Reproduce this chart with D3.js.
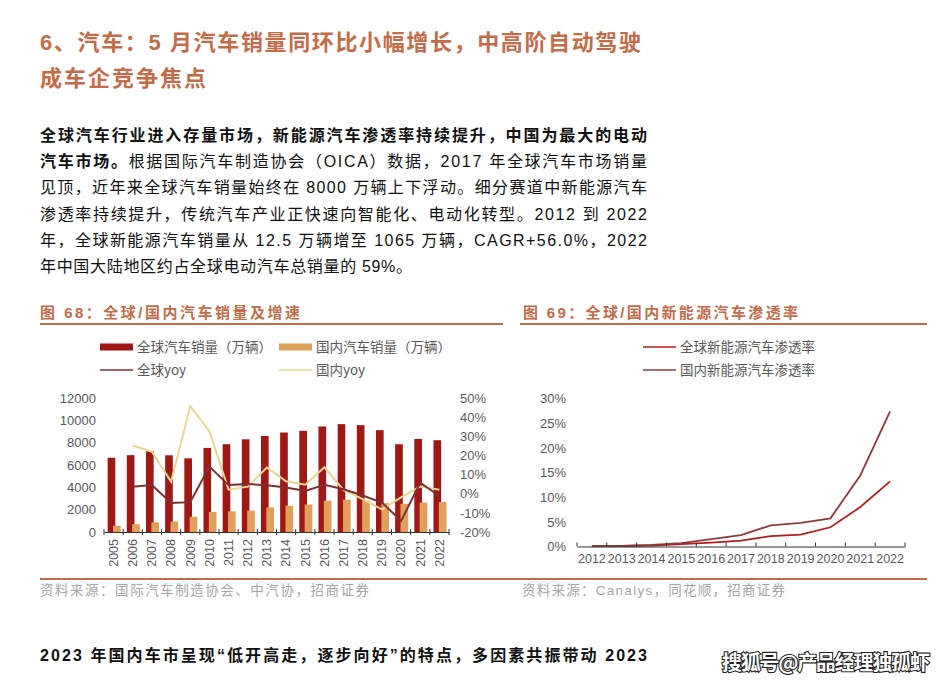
<!DOCTYPE html>
<html><head><meta charset="utf-8">
<script src="https://cdn.jsdelivr.net/npm/d3@7"></script>
<style>
body{margin:0;background:#fff;}
svg{display:block;}
</style></head>
<body>
<svg id="c" width="952" height="688"></svg>
<script>
// ---------- data ----------
const years1 = ["2005","2006","2007","2008","2009","2010","2011","2012","2013","2014","2015","2016","2017","2018","2019","2020","2021","2022"];
const globalSales = [6650,6880,7240,6870,6600,7530,7860,8300,8600,8910,9060,9450,9660,9570,9120,7860,8330,8220];
const chinaSales  = [560,700,870,930,1360,1800,1850,1930,2200,2350,2460,2800,2890,2810,2580,2530,2630,2690];
const globalYoy = [null,3.7,4.5,-4.9,-4.4,14.2,4.5,5.1,4.4,3.3,1.4,4.7,2.3,-0.9,-4.6,-14.2,5.8,-1.2];
const chinaYoy  = [null,25.2,21.9,6.3,45.7,32.7,2.1,3.7,13.7,6.5,4.7,13.8,1.9,-2.8,-8.2,-1.9,3.8,2.1];
const leftTicks = [0,2000,4000,6000,8000,10000,12000];
const rightTicks = [-20,-10,0,10,20,30,40,50];

const years2 = ["2012","2013","2014","2015","2016","2017","2018","2019","2020","2021","2022"];
const nevGlobal = [0.1,0.1,0.2,0.5,0.8,1.2,2.1,2.4,3.9,8.0,13.2];
const nevChina  = [0.1,0.1,0.3,0.7,1.5,2.3,4.3,4.8,5.7,14.4,27.4];
const nevTicks = [0,5,10,15,20,25,30];

const svg = d3.select("#c");
const CJK = "'Liberation Sans','Noto Sans CJK SC',sans-serif";
const NUM = "'Liberation Sans',Arial,sans-serif";
const accent = "#c46b47";
const grey = "#595959";

// ---------- header text ----------
svg.append("text").attr("x",40).attr("y",50).attr("font-family",CJK).attr("font-weight",700)
  .attr("font-size",22).attr("fill",accent).attr("textLength",601).attr("lengthAdjust","spacing")
  .text("6、汽车：5 月汽车销量同环比小幅增长，中高阶自动驾驶");
svg.append("text").attr("x",40).attr("y",86).attr("font-family",CJK).attr("font-weight",700)
  .attr("font-size",22).attr("fill",accent).attr("textLength",166).attr("lengthAdjust","spacing")
  .text("成车企竞争焦点");

const para = [
  {parts:[["全球汽车行业进入存量市场，新能源汽车渗透率持续提升，中国为最大的电动",700]], len:607},
  {parts:[["汽车市场。",700],["根据国际汽车制造协会（OICA）数据，2017 年全球汽车市场销量",400]], len:607},
  {parts:[["见顶，近年来全球汽车销量始终在 8000 万辆上下浮动。细分赛道中新能源汽车",400]], len:607},
  {parts:[["渗透率持续提升，传统汽车产业正快速向智能化、电动化转型。2012 到 2022",400]], len:607},
  {parts:[["年，全球新能源汽车销量从 12.5 万辆增至 1065 万辆，CAGR+56.0%，2022",400]], len:607},
  {parts:[["年中国大陆地区约占全球电动汽车总销量的 59%。",400]], len:372}
];
para.forEach((ln,i)=>{
  const t = svg.append("text").attr("x",40).attr("y",141+i*26.2).attr("font-family",CJK)
    .attr("font-size",16).attr("fill","#111").attr("textLength",ln.len).attr("lengthAdjust","spacing");
  ln.parts.forEach(p=>t.append("tspan").attr("font-weight",p[1]).text(p[0]));
});

// section headings
svg.append("text").attr("x",40).attr("y",318).attr("font-family",CJK).attr("font-weight",700)
  .attr("font-size",15).attr("fill",accent).attr("textLength",260).attr("lengthAdjust","spacing")
  .text("图 68：全球/国内汽车销量及增速");
svg.append("text").attr("x",523).attr("y",318).attr("font-family",CJK).attr("font-weight",700)
  .attr("font-size",15).attr("fill",accent).attr("textLength",275).attr("lengthAdjust","spacing")
  .text("图 69：全球/国内新能源汽车渗透率");
svg.append("line").attr("x1",40).attr("x2",503).attr("y1",324).attr("y2",324).attr("stroke",accent).attr("stroke-width",2);
svg.append("line").attr("x1",520).attr("x2",927).attr("y1",324).attr("y2",324).attr("stroke",accent).attr("stroke-width",2);

// ---------- left chart ----------
const x1 = d3.scaleBand().domain(years1).range([104,449]).padding(0);
const yL = d3.scaleLinear().domain([0,12000]).range([532,398]);
const yR = d3.scaleLinear().domain([-20,50]).range([532,398]);
const bw = x1.bandwidth();

const gL = svg.append("g");
gL.selectAll("rect.g").data(years1).join("rect")
  .attr("x",d=>x1(d)+bw*0.19).attr("width",bw*0.40)
  .attr("y",(d,i)=>yL(globalSales[i])).attr("height",(d,i)=>yL(0)-yL(globalSales[i]))
  .attr("fill","#a01815");
gL.selectAll("rect.c").data(years1).join("rect")
  .attr("x",d=>x1(d)+bw*0.47).attr("width",bw*0.40)
  .attr("y",(d,i)=>yL(chinaSales[i])).attr("height",(d,i)=>yL(0)-yL(chinaSales[i]))
  .attr("fill","#e0a05a");

const lineL = (arr)=>d3.line().defined((d,i)=>arr[i]!==null)
  .x((d,i)=>x1(years1[i])+bw/2).y((d,i)=>yR(arr[i]))(years1);
gL.append("path").attr("d",lineL(chinaYoy)).attr("fill","none").attr("stroke","#e9d592").attr("stroke-width",2);
gL.append("path").attr("d",lineL(globalYoy)).attr("fill","none").attr("stroke","#7f2f2f").attr("stroke-width",2);

// x axis
const axL = d3.axisBottom(x1).tickSize(0).tickPadding(6);
const gx = svg.append("g").attr("transform","translate(0,532)").call(axL);
gx.select(".domain").attr("stroke","#333").attr("stroke-width",1.2);
gx.selectAll("text").attr("font-family",NUM).attr("font-size",12.5).attr("fill",grey)
  .attr("transform","rotate(-90)").attr("text-anchor","end")
  .attr("x",-7).attr("y",0).attr("dx",null).attr("dy","0.35em");
// boundary ticks
svg.append("g").selectAll("line").data(d3.range(years1.length+1)).join("line")
  .attr("x1",i=>104+i*bw).attr("x2",i=>104+i*bw).attr("y1",529).attr("y2",535)
  .attr("stroke","#333").attr("stroke-width",1);

const gyl = svg.append("g").attr("transform","translate(96,0)")
  .call(d3.axisLeft(yL).tickValues(leftTicks).tickSize(0).tickPadding(0).tickFormat(d3.format("d")));
gyl.select(".domain").remove();
gyl.selectAll("text").attr("font-family",NUM).attr("font-size",13).attr("fill",grey);

const gyr = svg.append("g").attr("transform","translate(460,0)")
  .call(d3.axisRight(yR).tickValues(rightTicks).tickSize(0).tickPadding(0).tickFormat(d=>d+"%"));
gyr.select(".domain").remove();
gyr.selectAll("text").attr("font-family",NUM).attr("font-size",13).attr("fill",grey);

// left legend
const legL = [
  {x:100,y:347,type:"rect",color:"#a01815",label:"全球汽车销量（万辆）"},
  {x:279,y:347,type:"rect",color:"#e0a05a",label:"国内汽车销量（万辆）"},
  {x:100,y:370,type:"line",color:"#7f2f2f",label:"全球yoy"},
  {x:279,y:370,type:"line",color:"#e9d592",label:"国内yoy"}
];
legL.forEach(l=>{
  if(l.type==="rect") svg.append("rect").attr("x",l.x).attr("y",l.y-3.5).attr("width",33).attr("height",7).attr("fill",l.color);
  else svg.append("line").attr("x1",l.x).attr("x2",l.x+33).attr("y1",l.y).attr("y2",l.y).attr("stroke",l.color).attr("stroke-width",1.5);
  svg.append("text").attr("x",l.x+37).attr("y",l.y+5).attr("font-family","'Noto Sans CJK SC','Liberation Serif',serif").attr("font-size",13.5)
    .attr("fill",grey).text(l.label);
});

// ---------- right chart ----------
const x2 = d3.scaleBand().domain(years2).range([577,905]).padding(0);
const y2 = d3.scaleLinear().domain([0,30]).range([546.5,398.5]);
const bw2 = x2.bandwidth();
const lineR = (arr)=>d3.line().x((d,i)=>x2(years2[i])+bw2/2).y((d,i)=>y2(arr[i]))(years2);
svg.append("path").attr("d",lineR(nevGlobal)).attr("fill","none").attr("stroke","#b71c1c").attr("stroke-width",1.8);
svg.append("path").attr("d",lineR(nevChina)).attr("fill","none").attr("stroke","#8e3b3b").attr("stroke-width",1.8);

const gx2 = svg.append("g").attr("transform","translate(0,546.5)").call(d3.axisBottom(x2).tickSize(0).tickPadding(8));
gx2.select(".domain").attr("stroke","#333").attr("stroke-width",1.2);
gx2.selectAll("text").attr("font-family",NUM).attr("font-size",12.5).attr("fill",grey);
svg.append("g").selectAll("line").data(d3.range(years2.length+1)).join("line")
  .attr("x1",i=>577+i*bw2).attr("x2",i=>577+i*bw2).attr("y1",542.5).attr("y2",546.5)
  .attr("stroke","#333").attr("stroke-width",1);

const gy2 = svg.append("g").attr("transform","translate(566,0)")
  .call(d3.axisLeft(y2).tickValues(nevTicks).tickSize(0).tickPadding(0).tickFormat(d=>d+"%"));
gy2.select(".domain").remove();
gy2.selectAll("text").attr("font-family",NUM).attr("font-size",13).attr("fill",grey);

const legR = [
  {y:347,color:"#b71c1c",label:"全球新能源汽车渗透率"},
  {y:370,color:"#8e3b3b",label:"国内新能源汽车渗透率"}
];
legR.forEach(l=>{
  svg.append("line").attr("x1",643).attr("x2",676).attr("y1",l.y).attr("y2",l.y).attr("stroke",l.color).attr("stroke-width",1.5);
  svg.append("text").attr("x",680).attr("y",l.y+5).attr("font-family",CJK).attr("font-size",13.5)
    .attr("fill",grey).text(l.label);
});

// ---------- footer ----------
svg.append("line").attr("x1",40).attr("x2",927).attr("y1",579).attr("y2",579).attr("stroke",accent).attr("stroke-width",2);
svg.append("text").attr("x",40).attr("y",595).attr("font-family",CJK).attr("font-size",13.5).attr("fill","#a6a6a6")
  .attr("textLength",329).attr("lengthAdjust","spacing").text("资料来源：国际汽车制造协会、中汽协，招商证券");
svg.append("text").attr("x",522).attr("y",595).attr("font-family",CJK).attr("font-size",13.5).attr("fill","#a6a6a6")
  .attr("textLength",263).attr("lengthAdjust","spacing").text("资料来源：Canalys，同花顺，招商证券");

svg.append("text").attr("x",40).attr("y",661).attr("font-family",CJK).attr("font-weight",700)
  .attr("font-size",16).attr("fill","#111").attr("textLength",607).attr("lengthAdjust","spacing")
  .text("2023 年国内车市呈现“低开高走，逐步向好”的特点，多因素共振带动 2023");

svg.append("text").attr("x",722).attr("y",670).attr("font-family","'Noto Sans CJK SC',sans-serif").attr("font-weight",700)
  .attr("font-size",20).attr("fill","#fff").attr("stroke","#222").attr("stroke-width",2.2)
  .attr("paint-order","stroke").attr("textLength",208).attr("lengthAdjust","spacing")
  .text("搜狐号@产品经理独孤虾");
</script>
</body></html>
